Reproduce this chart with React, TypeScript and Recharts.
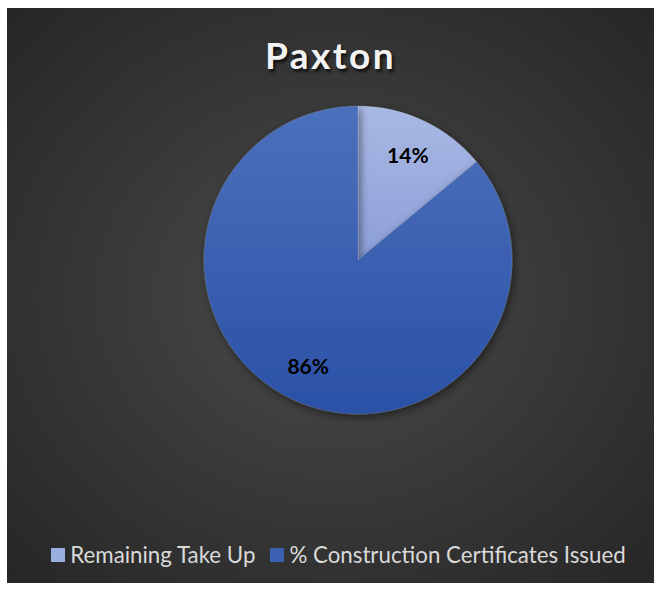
import { Cell, Legend, Pie, PieChart } from "recharts";

const categories = ["Remaining Take Up", "% Construction Certificates Issued"];
const values = [14, 86];
const labels = ["14%", "86%"];

const GRADIENTS = [
  ["#A9B9E4", "#8C9FD9"],
  ["#4C70BC", "#2A51A6"],
];
const LEGEND_COLORS = ["#9AAEE0", "#3A60B2"];

const data = categories.map((name, i) => ({ name, value: values[i], label: labels[i] }));

const RADIAN = Math.PI / 180;

function renderLabel(props: any) {
  const { cx, cy, midAngle, outerRadius, index } = props;
  const r = outerRadius * 0.76;
  const x = cx + r * Math.cos(-midAngle * RADIAN);
  const y = cy + r * Math.sin(-midAngle * RADIAN);
  return (
    <text
      x={x}
      y={y}
      fill="#000000"
      textAnchor="middle"
      dominantBaseline="central"
      fontFamily="Lato, 'Open Sans', sans-serif"
      fontWeight={700}
      fontSize={21}
    >
      {data[index].label}
    </text>
  );
}

function LegendContent() {
  return (
    <div
      style={{
        display: "flex",
        justifyContent: "center",
        alignItems: "center",
        gap: 15,
        paddingLeft: 16,
      }}
    >
      {data.map((d, i) => (
        <div key={d.name} style={{ display: "flex", alignItems: "center" }}>
          <span
            style={{
              display: "inline-block",
              width: 14,
              height: 14,
              background: LEGEND_COLORS[i],
              marginRight: 5,
            }}
          />
          <span style={{ color: "#D9D9D9", fontSize: 22.3 }}>{d.name}</span>
        </div>
      ))}
    </div>
  );
}

export default function App() {
  return (
    <div
      style={{
        position: "absolute",
        left: 7,
        top: 8,
        width: 647,
        height: 575,
        background: "radial-gradient(ellipse at 50% 50%, #4b4b4b 0%, #3a3a3a 45%, #262626 100%)",
        fontFamily: "Lato, 'Open Sans', sans-serif",
      }}
    >
      <div
        style={{
          position: "absolute",
          top: 24,
          width: "100%",
          textAlign: "center",
          color: "#F2F2F2",
          fontSize: 37,
          fontWeight: 700,
          letterSpacing: 2.5,
          textShadow: "2px 3px 3px rgba(0,0,0,0.7)",
        }}
      >
        Paxton
      </div>
      <PieChart
        width={647}
        height={575}
        margin={{ top: 0, right: 0, bottom: 0, left: 0 }}
        style={{ position: "absolute", left: 0, top: 0 }}
      >
        <defs>
          {GRADIENTS.map((g, i) => (
            <linearGradient key={i} id={`slice-${i}`} x1="0" y1="0" x2="0" y2="1">
              <stop offset="0%" stopColor={g[0]} />
              <stop offset="100%" stopColor={g[1]} />
            </linearGradient>
          ))}
          <filter id="pie-shadow" x="-20%" y="-20%" width="140%" height="140%">
            <feDropShadow dx="2" dy="3" stdDeviation="4" floodColor="#000" floodOpacity="0.5" />
          </filter>
        </defs>
        <Pie
          data={data}
          dataKey="value"
          nameKey="name"
          cx={351}
          cy={252}
          outerRadius={154}
          startAngle={90}
          endAngle={-270}
          stroke="rgba(255,255,255,0.15)"
          strokeWidth={0.75}
          label={renderLabel}
          labelLine={false}
          isAnimationActive={false}
          style={{ filter: "url(#pie-shadow)" }}
        >
          {data.map((_, i) => (
            <Cell key={`cell-${i}`} fill={`url(#slice-${i})`} />
          ))}
        </Pie>
        <Legend
          verticalAlign="bottom"
          align="center"
          wrapperStyle={{ bottom: 15 }}
          content={LegendContent}
        />
      </PieChart>
    </div>
  );
}
